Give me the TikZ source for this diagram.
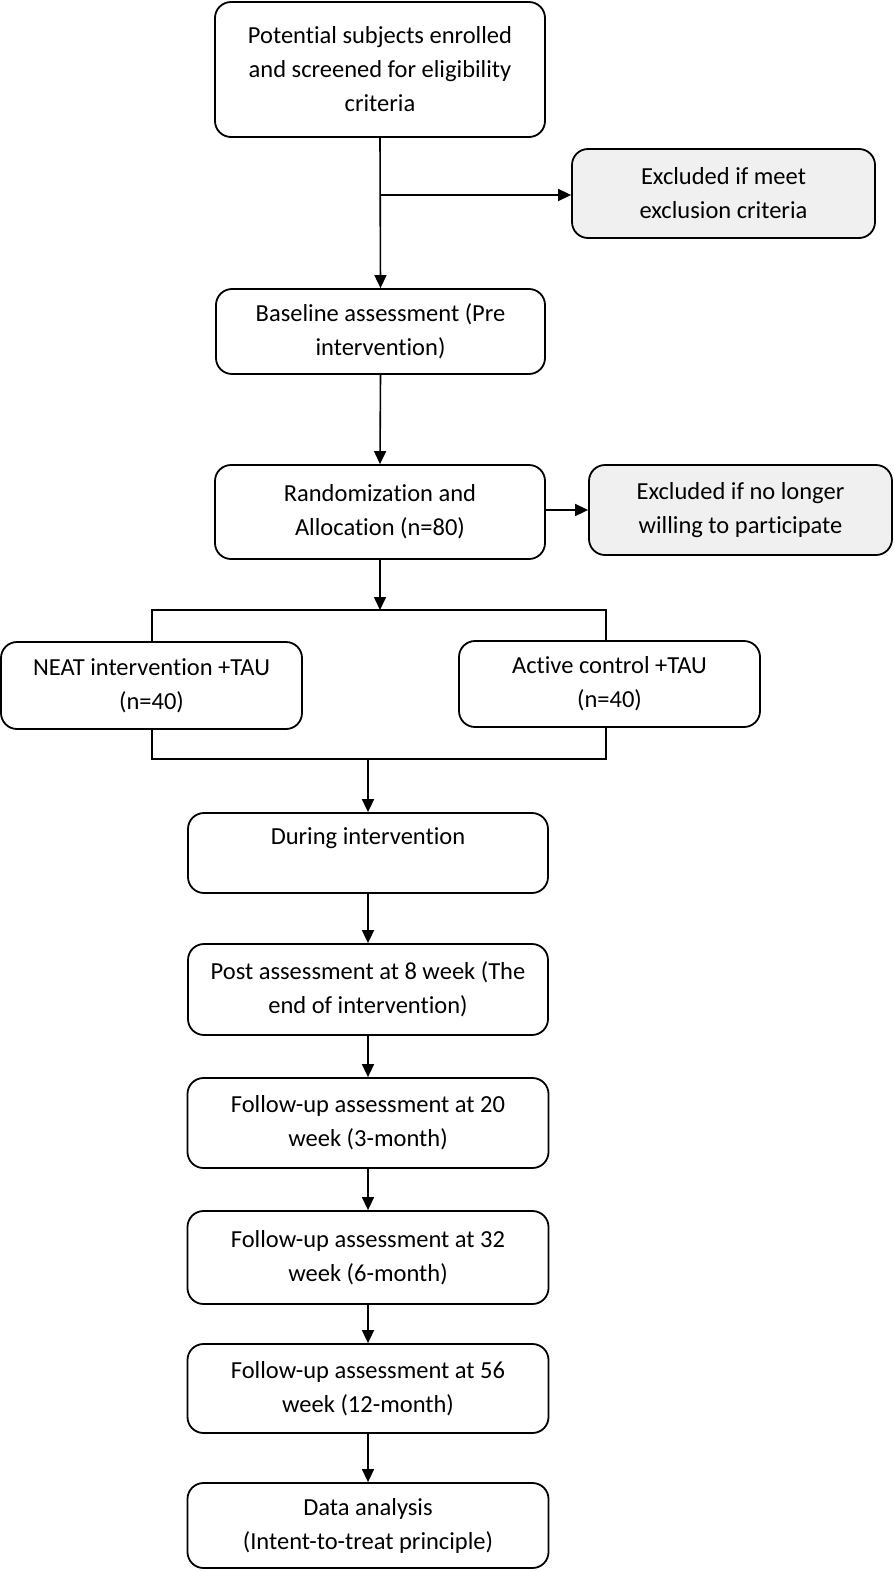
\documentclass[tikz,border=0pt]{standalone}
\usepackage{fontspec}
\setmainfont{Carlito}[RawFeature={-liga;-clig;-calt;-dlig;-rlig}]
\usetikzlibrary{arrows.meta}
\tikzset{
  box/.style={draw=black, line width=1.8pt, rounded corners=16pt, align=center,
    inner sep=0pt, font=\fontsize{24.5}{34}\selectfont, text=black},
  grey/.style={box, fill=black!6},
  conn/.style={line width=1.6pt, draw=black},
  arr/.style={conn, -{Triangle[length=13pt,width=12pt]}},
}
\begin{document}
\begin{tikzpicture}[x=1pt,y=-1pt]
\useasboundingbox (0,0) rectangle (894,1571);
\node[box, minimum width=330, minimum height=135] (top) at (380,69.5)
  {Potential subjects enrolled\\and screened for eligibility\\criteria};
\node[grey, minimum width=303, minimum height=89] (ex1) at (723.5,193.5)
  {Excluded if meet\\exclusion criteria};
\node[box, minimum width=329, minimum height=85] (base) at (380.5,331.5)
  {Baseline assessment (Pre\\intervention)};
\node[box, minimum width=330, minimum height=94] (rand) at (380,512)
  {Randomization and\\Allocation (n=80)};
\node[grey, minimum width=303, minimum height=90] (ex2) at (740.5,510)
  {Excluded if no longer\\willing to participate};
\node[box, minimum width=301, minimum height=87] (neat) at (151.5,685.5)
  {NEAT intervention +TAU\\(n=40)};
\node[box, minimum width=301, minimum height=86] (act) at (609.5,684)
  {Active control +TAU\\(n=40)};
\node[box, minimum width=360, minimum height=80] (during) at (368,853)
  {During intervention\\\phantom{x}};
\node[box, minimum width=360, minimum height=91] (post) at (368,989.5)
  {Post assessment at 8 week (The\\end of intervention)};
\node[box, minimum width=361, minimum height=90] (fu20) at (368,1123)
  {Follow-up assessment at 20\\week (3-month)};
\node[box, minimum width=361, minimum height=93] (fu32) at (368,1257.5)
  {Follow-up assessment at 32\\week (6-month)};
\node[box, minimum width=361, minimum height=89] (fu56) at (368,1388.5)
  {Follow-up assessment at 56\\week (12-month)};
\node[box, minimum width=361, minimum height=85] (data) at (368,1525.5)
  {Data analysis\\(Intent-to-treat principle)};

\coordinate (b1) at (380,195);
\coordinate (tl) at (152,610);
\coordinate (tr) at (606,610);
\coordinate (tm) at (380,610);
\coordinate (bl) at (152,759);
\coordinate (br) at (606,759);
\coordinate (bm) at (368,759);

\draw[arr] (top.south) -- (base.north);
\draw[arr] (b1) -- (b1 -| ex1.west);
\draw[arr] (base.south) -- (rand.north);
\draw[arr] (rand.east |- ex2.west) -- (ex2.west);
\draw[arr] (rand.south) -- (tm);
\draw[conn] (tl |- neat.north) -- (tl) -- (tr) -- (tr |- act.north);
\draw[conn] (bl |- neat.south) -- (bl) -- (br) -- (br |- act.south);
\draw[arr] (bm) -- (during.north);
\draw[arr] (during.south) -- (post.north);
\draw[arr] (post.south) -- (fu20.north);
\draw[arr] (fu20.south) -- (fu32.north);
\draw[arr] (fu32.south) -- (fu56.north);
\draw[arr] (fu56.south) -- (data.north);
\end{tikzpicture}
\end{document}
